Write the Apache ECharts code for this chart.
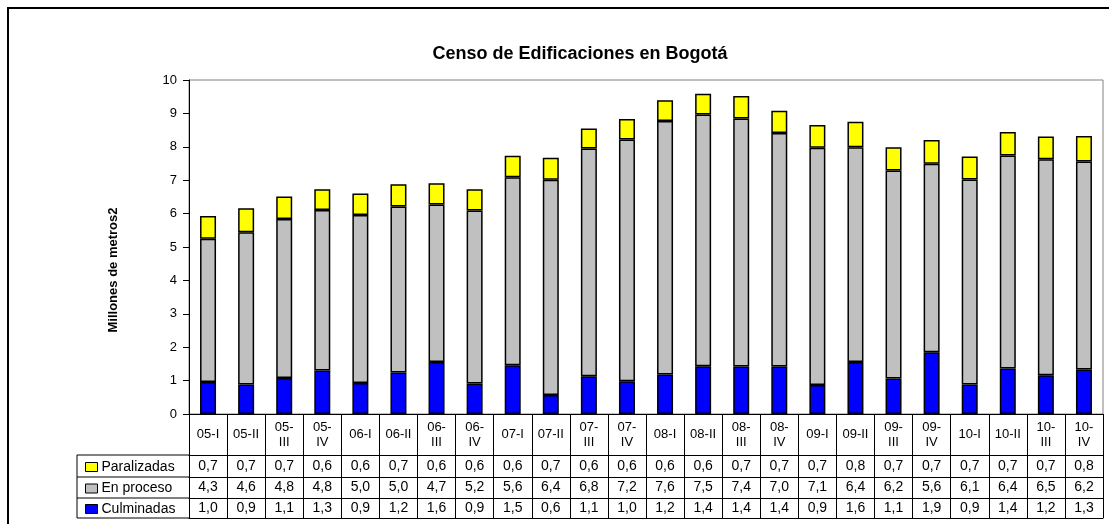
<!DOCTYPE html>
<html lang="es">

<head>
    <meta charset="utf-8">
    <title>Censo de Edificaciones en Bogotá</title>
    <style>
        html, body { margin: 0; padding: 0; background: #fff; }
        #main { width: 1109px; height: 524px; }
    </style>
</head>

<body>
    <div id="main"></div>
    <script src="https://cdn.jsdelivr.net/npm/echarts@6.0.0/dist/echarts.min.js"></script>
    <script>
    // trimestres
    var categories = ['05-I', '05-II', '05-III', '05-IV', '06-I', '06-II', '06-III', '06-IV',
        '07-I', '07-II', '07-III', '07-IV', '08-I', '08-II', '08-III', '08-IV',
        '09-I', '09-II', '09-III', '09-IV', '10-I', '10-II', '10-III', '10-IV'];

    // millones de m2
    var culminadas = [0.96, 0.88, 1.08, 1.30, 0.93, 1.24, 1.56, 0.91, 1.46, 0.57, 1.13, 0.98,
        1.18, 1.43, 1.42, 1.42, 0.87, 1.56, 1.06, 1.85, 0.88, 1.36, 1.16, 1.33];
    var enProceso = [4.29, 4.56, 4.76, 4.81, 5.03, 4.97, 4.71, 5.18, 5.63, 6.44, 6.82, 7.24,
        7.59, 7.54, 7.43, 6.99, 7.10, 6.43, 6.23, 5.64, 6.14, 6.38, 6.47, 6.23];
    var paralizadas = [0.68, 0.72, 0.67, 0.62, 0.64, 0.67, 0.64, 0.64, 0.64, 0.66, 0.60, 0.61,
        0.62, 0.62, 0.67, 0.67, 0.68, 0.76, 0.70, 0.71, 0.69, 0.70, 0.68, 0.76];

    var yTicks = [0, 1, 2, 3, 4, 5, 6, 7, 8, 9, 10];

    var FONT = '"Liberation Sans", Arial, sans-serif';
    var GRID = { left: 189, right: 6, top: 80, bottom: 110 };
    var H = 524;
    var AXIS_Y = H - GRID.bottom;
    // bordes de filas de la tabla, medidos desde el eje
    var ROWS = [41, 63, 84, 104];
    var TABLE_LEFT = 77;

    var chart = echarts.init(document.getElementById('main'), null, { renderer: 'canvas' });

    function fmt(v) {
        return v.toFixed(1).replace('.', ',');
    }

    function wrapCat(name) {
        return /-(III|IV)$/.test(name) ? name.replace('-', '-\n') : name;
    }

    function rowAxis(values, offset, height) {
        return {
            type: 'category',
            data: categories,
            position: 'bottom',
            offset: offset,
            axisLine: { show: true, lineStyle: { color: '#000', width: 1 } },
            axisTick: { show: false },
            axisLabel: {
                interval: 0,
                margin: height / 2,
                verticalAlign: 'middle',
                fontFamily: FONT,
                fontSize: 14,
                color: '#000',
                formatter: function (v, i) { return fmt(values[i]); }
            }
        };
    }

    function barSeries(name, data, color) {
        return {
            name: name,
            type: 'bar',
            stack: 'total',
            barWidth: 16,
            data: data,
            itemStyle: { color: color, borderColor: '#000', borderWidth: 1.5 }
        };
    }

    // una leyenda por fila de la tabla
    function rowLegend(name, i) {
        var center = AXIS_Y + (ROWS[i] + ROWS[i + 1]) / 2;
        return {
            orient: 'vertical',
            left: TABLE_LEFT + 3,
            top: center - 12,
            itemWidth: 12,
            itemHeight: 9,
            icon: 'rect',
            selectedMode: false,
            data: [name],
            itemStyle: { borderColor: '#000', borderWidth: 1 },
            textStyle: { fontFamily: FONT, fontSize: 14, lineHeight: 16, color: '#000', padding: [0, 0, 0, -1] }
        };
    }

    // lineas de la columna de leyenda de la tabla
    var tableLines = [];
    ROWS.forEach(function (r) {
        tableLines.push({
            type: 'line',
            shape: { x1: TABLE_LEFT, y1: AXIS_Y + r, x2: GRID.left, y2: AXIS_Y + r },
            style: { stroke: '#000', lineWidth: 1 }
        });
    });
    tableLines.push({
        type: 'line',
        shape: { x1: TABLE_LEFT, y1: AXIS_Y + ROWS[0], x2: TABLE_LEFT, y2: AXIS_Y + ROWS[3] },
        style: { stroke: '#000', lineWidth: 1 }
    });

    var option = {
        backgroundColor: '#fff',
        animation: false,
        title: {
            text: 'Censo de Edificaciones en Bogotá',
            left: 575,
            top: 40,
            textAlign: 'center',
            textStyle: { fontFamily: FONT, fontSize: 18, fontWeight: 'bold', color: '#000' }
        },
        legend: [
            rowLegend('Paralizadas', 0),
            rowLegend('En proceso', 1),
            rowLegend('Culminadas', 2)
        ],
        grid: {
            left: GRID.left,
            right: GRID.right,
            top: GRID.top,
            bottom: GRID.bottom,
            show: true,
            borderColor: '#808080',
            borderWidth: 1
        },
        xAxis: [
            {
                type: 'category',
                data: categories,
                position: 'bottom',
                axisLine: { show: true, lineStyle: { color: '#000', width: 1 } },
                axisTick: {
                    show: true,
                    interval: 0,
                    alignWithLabel: false,
                    length: ROWS[3],
                    lineStyle: { color: '#000', width: 1 }
                },
                axisLabel: {
                    interval: 0,
                    margin: ROWS[0] / 2,
                    verticalAlign: 'middle',
                    fontFamily: FONT,
                    fontSize: 13,
                    lineHeight: 15,
                    color: '#000',
                    formatter: wrapCat
                }
            },
            rowAxis(paralizadas, ROWS[0], ROWS[1] - ROWS[0]),
            rowAxis(enProceso, ROWS[1], ROWS[2] - ROWS[1]),
            rowAxis(culminadas, ROWS[2], ROWS[3] - ROWS[2]),
            {
                type: 'category',
                data: categories,
                position: 'bottom',
                offset: ROWS[3],
                axisLine: { show: true, lineStyle: { color: '#000', width: 1 } },
                axisTick: { show: false },
                axisLabel: { show: false }
            }
        ],
        yAxis: {
            type: 'value',
            min: yTicks[0],
            max: yTicks[yTicks.length - 1],
            interval: 1,
            axisLine: { show: true, lineStyle: { color: '#000', width: 1 } },
            axisTick: { show: true, length: 6, lineStyle: { color: '#000' } },
            splitLine: { show: false },
            axisLabel: { margin: 12, fontFamily: FONT, fontSize: 13, color: '#000' }
        },
        graphic: [
            {
                type: 'rect',
                shape: { x: 8, y: 8, width: 1130, height: 540 },
                style: { fill: 'none', stroke: '#000', lineWidth: 2 }
            },
            {
                type: 'text',
                x: 113,
                y: 270,
                rotation: Math.PI / 2,
                style: {
                    text: 'Millones de metros2',
                    fontFamily: FONT,
                    fontSize: 13,
                    fontWeight: 'bold',
                    fill: '#000',
                    align: 'center',
                    verticalAlign: 'middle'
                }
            }
        ].concat(tableLines),
        series: [
            barSeries('Culminadas', culminadas, '#0000ff'),
            barSeries('En proceso', enProceso, '#c0c0c0'),
            barSeries('Paralizadas', paralizadas, '#ffff00')
        ]
    };

    chart.setOption(option);
    </script>
</body>

</html>
